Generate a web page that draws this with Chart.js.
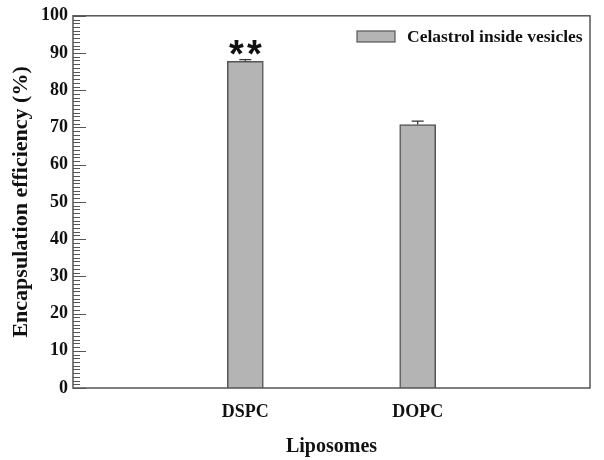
<!DOCTYPE html>
<html>
<head>
<meta charset="utf-8">
<script src="https://cdn.jsdelivr.net/npm/chart.js@4"></script>
<style>
  body { margin: 0; background: #fff; }
  #wrap { width: 604px; height: 460px; }
</style>
</head>
<body>
<div id="wrap"><canvas id="eeChart"></canvas></div>
<script>
// categories on the x axis (empty slots keep the bars at 1/3 and 2/3)
const lipids = ["", "DSPC", "DOPC", ""];
// encapsulation efficiency (%) and its error
const efficiency = [null, 87.8, 70.8, null];
const errors = [0, 0.4, 0.9, 0];
// significance marks above bars
const marks = ["", "**", "", ""];
const yTicks = [0, 10, 20, 30, 40, 50, 60, 70, 80, 90, 100];
const seriesName = "Celastrol inside vesicles";

const frameColor = "#555";
const barColor = "#b4b4b4";
const serif = "'Liberation Serif', 'Times New Roman', serif";

// frame, inner tick marks, error bars, stars and legend
const extras = {
  id: "extras",
  afterDatasetsDraw(chart) {
    const { ctx, chartArea: a, scales } = chart;
    const y = scales.y, x = scales.x;
    ctx.save();
    ctx.strokeStyle = frameColor;
    ctx.lineWidth = 1.5;
    ctx.strokeRect(a.left, a.top, a.right - a.left, a.bottom - a.top);

    // minor + major ticks pointing into the plot
    ctx.lineWidth = 1;
    for (let v = 0; v <= 100; v++) {
      const py = Math.round(y.getPixelForValue(v)) + 0.5;
      const len = v % 10 === 0 ? 13 : 7;
      ctx.beginPath();
      ctx.moveTo(a.left, py);
      ctx.lineTo(a.left + len, py);
      ctx.stroke();
    }

    // error bars (upper half only)
    ctx.strokeStyle = "#333";
    ctx.lineWidth = 1.2;
    efficiency.forEach((v, i) => {
      if (v == null) return;
      const px = x.getPixelForValue(i);
      const top = y.getPixelForValue(v + errors[i]);
      const base = y.getPixelForValue(v);
      ctx.beginPath();
      ctx.moveTo(px, base);
      ctx.lineTo(px, top);
      ctx.moveTo(px - 6, top);
      ctx.lineTo(px + 6, top);
      ctx.stroke();
      if (marks[i]) {
        ctx.fillStyle = "#111";
        ctx.font = "bold 38px 'Liberation Sans', sans-serif";
        ctx.textAlign = "center";
        ctx.textBaseline = "alphabetic";
        const m = ctx.measureText("*");
        const cy = top - 12;
        const by = cy + (m.actualBoundingBoxAscent - m.actualBoundingBoxDescent) / 2;
        ctx.fillText("*", px - 9, by);
        ctx.fillText("*", px + 9, by);
      }
    });

    // legend
    const lx = 357, ly = 31;
    ctx.fillStyle = barColor;
    ctx.fillRect(lx, ly, 38, 11);
    ctx.strokeStyle = frameColor;
    ctx.lineWidth = 1.2;
    ctx.strokeRect(lx, ly, 38, 11);
    ctx.fillStyle = "#111";
    ctx.font = "bold 17.5px " + serif;
    ctx.textAlign = "left";
    ctx.textBaseline = "middle";
    ctx.fillText(seriesName, 407, ly + 6);
    ctx.restore();
  }
};

new Chart(document.getElementById("eeChart"), {
  type: "bar",
  data: {
    labels: lipids,
    datasets: [{
      label: seriesName,
      data: efficiency,
      backgroundColor: barColor,
      borderColor: frameColor,
      borderWidth: 1.5,
      barThickness: 36
    }]
  },
  options: {
    responsive: true,
    maintainAspectRatio: false,
    animation: false,
    layout: { padding: { top: 14, right: 12, left: 0, bottom: 0 } },
    plugins: {
      legend: { display: false },
      tooltip: { enabled: false }
    },
    scales: {
      x: {
        offset: false,
        grid: { display: false, tickLength: 0 },
        border: { display: false },
        ticks: {
          color: "#111",
          padding: 14,
          maxRotation: 0,
          autoSkip: false,
          font: { family: serif, size: 18, weight: "bold" }
        },
        title: {
          display: true,
          text: "Liposomes",
          color: "#111",
          padding: { top: 19, bottom: 1 },
          font: { family: serif, size: 20, weight: "bold" }
        },
        afterFit: s => { s.height = 72; }
      },
      y: {
        min: 0,
        max: 100,
        grid: { display: false, tickLength: 0 },
        border: { display: false },
        afterBuildTicks: s => { s.ticks = yTicks.map(v => ({ value: v })); },
        ticks: {
          color: "#111",
          padding: 5,
          font: { family: serif, size: 18, weight: "bold" }
        },
        title: {
          display: true,
          text: "Encapsulation efficiency (%)",
          color: "#111",
          padding: { top: 8, bottom: 4 },
          font: { family: serif, size: 22, weight: "bold" }
        },
        afterFit: s => { s.width = 73; }
      }
    }
  },
  plugins: [extras]
});
</script>
</body>
</html>
